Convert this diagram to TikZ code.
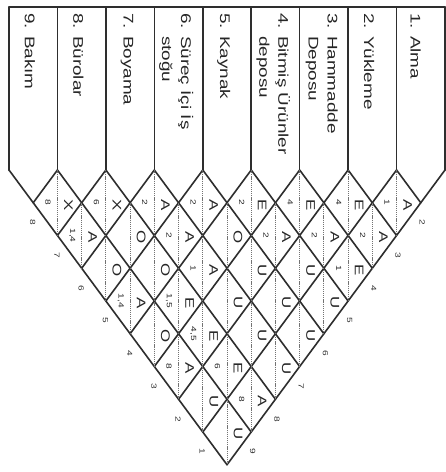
\documentclass[tikz,border=0pt]{standalone}
\usepackage{fontspec}
\setmainfont{Liberation Sans}
\begin{document}
\begin{tikzpicture}[x=1pt,y=-1pt,
  gridline/.style={draw=black!82, line width=1.6pt, line cap=round, line join=round},
  sepline/.style={draw=black!55, line width=0.9pt, dash pattern=on 1.2pt off 0.9pt},
  dept/.style={rotate=-90, xscale=1.35, anchor=west, inner sep=0pt, align=left,
    font=\fontsize{14}{19}\selectfont, text=black!85},
  rel/.style={rotate=-90, xscale=1.35, inner sep=0pt, font=\fontsize{12.5}{12}\selectfont, text=black!85},
  code/.style={rotate=-90, xscale=1.35, inner sep=0pt, font=\fontsize{7.5}{8}\selectfont, text=black!85},
  edgenum/.style={rotate=-90, xscale=1.35, inner sep=0pt, font=\fontsize{7.5}{8}\selectfont, text=black!80}
]
\useasboundingbox (0,0) rectangle (446,472);
\fill[white] (0,0) rectangle (446,472);
\def\w{24.222}
\def\h{32.75}
% named points
\foreach \k in {0,...,9}{
  \coordinate (T\k) at ({9+2*\w*\k},7);
  \coordinate (B\k) at ({9+2*\w*\k},170);
  \coordinate (L\k) at ({9+2*\w*\k-\k*\w},{170+\k*\h});
  \coordinate (R\k) at ({9+2*\w*\k+(9-\k)*\w},{170+(9-\k)*\h});
}
% header frame
\draw[gridline] (T0) -- (T9);
\foreach \k in {0,...,9}{
  \draw[gridline] (T\k) -- (B\k);
  \draw[gridline] (B\k) -- (R\k);
  \draw[gridline] (B\k) -- (L\k);
}
% dashed separators at boundaries
\foreach \k in {1,...,8}{
  \pgfmathsetmacro{\m}{min(2*\k,18-2*\k)}
  \coordinate (DB\k) at ({9+2*\w*\k},{170+\m*\h});
  \draw[sepline] (B\k) -- (DB\k);
}
% dashed separators at column centres
\foreach \k in {1,...,7}{
  \pgfmathsetmacro{\m}{min(2*\k+1,17-2*\k)}
  \coordinate (CT\k) at ({9+2*\w*\k+\w},{170+\h});
  \coordinate (CB\k) at ({9+2*\w*\k+\w},{170+\m*\h});
  \draw[sepline] (CT\k) -- (CB\k);
}
% department labels
\node[dept] (d1) at ({9+2*\w*8+19},13) {1. Alma};
\node[dept] (d2) at ({9+2*\w*7+21},13) {2. Yükleme};
\node[dept] (d3) at ({9+2*\w*6+22},13) {3. Hammadde\\\phantom{3. }Deposu};
\node[dept] (d4) at ({9+2*\w*5+22},13) {4. Bitmiş Ürünler\\\phantom{4. }deposu};
\node[dept] (d5) at ({9+2*\w*4+21},13) {5. Kaynak};
\node[dept] (d6) at ({9+2*\w*3+22},13) {6. Süreç İçi İş\\\phantom{6. }stoğu};
\node[dept] (d7) at ({9+2*\w*2+21},13) {7. Boyama};
\node[dept] (d8) at ({9+2*\w*1+21},13) {8. Bürolar};
\node[dept] (d9) at ({9+2*\w*0+21},13) {9. Bakım};
% relationship letters and reason codes
\foreach \i/\j/\L/\N in {
  1/2/A/1, 2/3/E/4, 3/4/E/4, 4/5/E/2, 5/6/A/2, 6/7/A/2, 7/8/X/6, 8/9/X/8,
  1/3/A/2, 2/4/A/2, 3/5/A/2, 4/6/O/, 5/7/A/2, 6/8/O/, 7/9/A/{1,4},
  1/4/E/1, 2/5/U/, 3/6/U/, 4/7/A/1, 5/8/O/, 6/9/O/,
  1/5/U/, 2/6/U/, 3/7/U/, 4/8/E/{1,5}, 5/9/A/{1,4},
  1/6/U/, 2/7/U/, 3/8/E/{4,5}, 4/9/O/,
  1/7/U/, 2/8/E/6, 3/9/A/8,
  1/8/A/8, 2/9/U/,
  1/9/U/}{
  \pgfmathsetmacro{\cx}{9+2*\w*(9-(\i+\j)/2)+\w}
  \pgfmathsetmacro{\cy}{170+(\j-\i)*\h}
  \node[rel] (r\i-\j) at ({\cx+11},{\cy+2}) {\L};
  \node[code] (c\i-\j) at ({\cx-9.5},{\cy}) {\N};
}
% numbers along the edges
\foreach \n in {1,...,8}{
  \pgfmathsetmacro{\t}{9.6-\n}
  \node[edgenum] (el\n) at ({9+\t*\w-15},{170+\t*\h}) {\n};
}
\foreach \n in {2,...,9}{
  \pgfmathsetmacro{\t}{\n-0.4}
  \node[edgenum] (er\n) at ({445-\t*\w+16},{170+\t*\h}) {\n};
}
\end{tikzpicture}
\end{document}
